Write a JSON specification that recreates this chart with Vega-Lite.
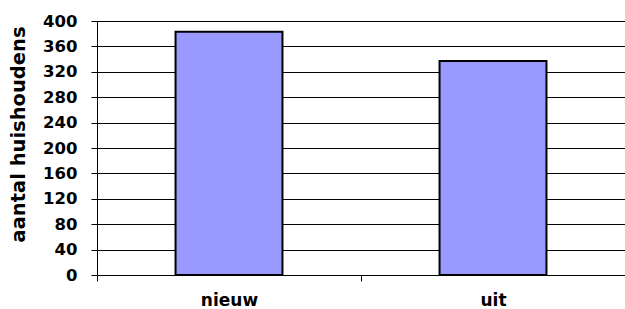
{
  "$schema": "https://vega.github.io/schema/vega-lite/v6.json",
  "width": 528,
  "height": 254,
  "autosize": {"type": "none"},
  "padding": {"left": 97, "top": 21, "right": 0, "bottom": 34},
  "background": "white",
  "data": {"values": [
    {"categorie": "nieuw", "aantal": 383},
    {"categorie": "uit", "aantal": 337}
  ]},
  "config": {
    "view": {"stroke": null},
    "font": "DejaVu Sans"
  },
  "mark": {"type": "bar", "color": "#9999FF", "stroke": "black", "strokeWidth": 2},
  "encoding": {
    "x": {
      "field": "categorie",
      "type": "nominal",
      "sort": null,
      "scale": {"paddingInner": 0.595, "paddingOuter": 0.2975},
      "axis": {
        "title": null,
        "labelAngle": 0,
        "labelFont": "DejaVu Sans",
        "labelFontWeight": "bold",
        "labelFontSize": 17,
        "labelColor": "black",
        "labelBaseline": "top",
        "labelPadding": 11,
        "tickSize": 6,
        "tickColor": "black",
        "tickOffset": -132,
        "labelOffset": 132,
        "domainColor": "black",
        "domainWidth": 1,
        "grid": false
      }
    },
    "y": {
      "field": "aantal",
      "type": "quantitative",
      "scale": {"domain": [0, 400], "nice": false},
      "axis": {
        "title": "aantal huishoudens",
        "titleFont": "DejaVu Sans",
        "titleFontWeight": "bold",
        "titleFontSize": 19.5,
        "titleColor": "black",
        "titleAngle": -90,
        "titleAlign": "center",
        "titleBaseline": "middle",
        "titleX": -79,
        "titleY": 113,
        "values": [0, 40, 80, 120, 160, 200, 240, 280, 320, 360, 400],
        "labelFont": "DejaVu Sans",
        "labelFontWeight": "bold",
        "labelFontSize": 16.5,
        "labelColor": "black",
        "labelPadding": 14,
        "tickSize": 6,
        "tickColor": "black",
        "domainColor": "black",
        "domainWidth": 1,
        "grid": true,
        "gridColor": "black",
        "gridWidth": 1,
        "gridOpacity": 1
      }
    }
  }
}
